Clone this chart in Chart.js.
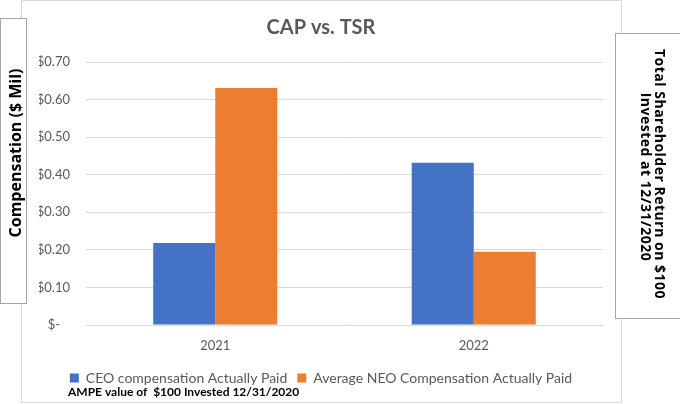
<!DOCTYPE html>
<html>
<head>
<meta charset="utf-8">
<title>CAP vs. TSR</title>
<script src="https://cdn.jsdelivr.net/npm/chart.js@4"></script>
<style>
	html, body { margin: 0; padding: 0; background: #ffffff; }
	#wrap { position: relative; width: 680px; height: 404px; }
</style>
</head>
<body>
<div id="wrap"><canvas id="capChart" width="680" height="404"></canvas></div>
<script>
// Chart data
const years = ["2021", "2022"];
const ceoCap = [0.218, 0.432];
const neoCap = [0.631, 0.195];
const yTicks = [0, 0.1, 0.2, 0.3, 0.4, 0.5, 0.6, 0.7];
const seriesNames = ["CEO compensation Actually Paid", "Average NEO Compensation Actually Paid"];
const leftAxisText = "Compensation ($ Mil)";
const rightAxisText = ["Total Shareholder Return on $100", "Invested at 12/31/2020"];
const footerText = "AMPE value of  $100 Invested 12/31/2020";

const FONT = "Lato, 'Open Sans', sans-serif";
const SIDE_FONT = "'Open Sans', sans-serif";

// Boxes and side texts, drawn behind / over the chart
const framePlugin = {
	id: "frame",
	beforeDraw: function (chart) {
		const ctx = chart.ctx;
		ctx.save();
		ctx.fillStyle = "#ffffff";
		ctx.fillRect(0, 0, chart.width, chart.height);
		ctx.strokeStyle = "#d9d9d9";
		ctx.lineWidth = 1;
		ctx.strokeRect(21.5, 0.5, 600, 402);
		ctx.restore();
	},
	afterDraw: function (chart) {
		const ctx = chart.ctx;

		// left box
		ctx.save();
		ctx.fillStyle = "#ffffff";
		ctx.fillRect(0, 18, 27, 285);
		ctx.strokeStyle = "#a6a6a6";
		ctx.strokeRect(0.5, 18.5, 26, 285);
		ctx.fillStyle = "#000000";
		ctx.font = "bold 16px " + SIDE_FONT;
		ctx.textAlign = "center";
		ctx.textBaseline = "middle";
		ctx.translate(16, 153);
		ctx.rotate(-Math.PI / 2);
		ctx.fillText(leftAxisText, 0, 0);
		ctx.restore();

		// right box
		ctx.save();
		ctx.fillStyle = "#ffffff";
		ctx.fillRect(615, 33, 65, 285);
		ctx.strokeStyle = "#a6a6a6";
		ctx.strokeRect(615.5, 33.5, 66, 285);
		ctx.fillStyle = "#000000";
		ctx.font = "bold 14px " + SIDE_FONT;
		ctx.letterSpacing = "0.5px";
		ctx.textAlign = "center";
		ctx.textBaseline = "middle";
		ctx.translate(652, 174);
		ctx.rotate(Math.PI / 2);
		ctx.fillText(rightAxisText[0], 0, -7);
		ctx.fillText(rightAxisText[1], 3, 7);
		ctx.restore();

		// footer line under the legend
		ctx.save();
		ctx.fillStyle = "#000000";
		ctx.font = "bold 12px " + FONT;
		ctx.textAlign = "left";
		ctx.textBaseline = "middle";
		ctx.fillText(footerText, 68, 392);
		ctx.restore();
	},
};

function initCapChart() {
	const ctx = document.getElementById("capChart");
	if (!ctx) {
		console.warn("Chart canvas not found");
		return;
	}

	new Chart(ctx.getContext("2d"), {
		type: "bar",
		data: {
			labels: years,
			datasets: [
				{
					label: seriesNames[0],
					data: ceoCap,
					backgroundColor: "#4472c4",
					categoryPercentage: 0.48,
					barPercentage: 1,
				},
				{
					label: seriesNames[1],
					data: neoCap,
					backgroundColor: "#ed7d31",
					categoryPercentage: 0.48,
					barPercentage: 1,
				},
			],
		},
		options: {
			responsive: false,
			animation: false,
			devicePixelRatio: 1,
			plugins: {
				title: {
					display: true,
					text: "CAP vs. TSR",
					color: "#595959",
					font: { family: FONT, size: 20, weight: "bold" },
					padding: { top: 16, bottom: 22 },
				},
				legend: {
					position: "bottom",
					labels: {
						color: "#595959",
						boxWidth: 9,
						boxHeight: 9,
						padding: 10,
						font: { family: FONT, size: 14 },
					},
				},
				tooltip: { enabled: false },
			},
			scales: {
				x: {
					grid: { display: false, drawTicks: false },
					border: { display: false },
					ticks: {
						color: "#595959",
						padding: 13,
						font: { family: FONT, size: 13 },
					},
					afterFit: function (scale) {
						scale.height = 36;
					},
				},
				y: {
					min: 0,
					max: 0.7,
					grid: { color: "#d9d9d9", drawTicks: false },
					border: { display: false },
					afterBuildTicks: function (scale) {
						scale.ticks = yTicks.map((v) => ({ value: v }));
					},
					afterFit: function (scale) {
						scale.width = 47;
					},
					ticks: {
						color: "#595959",
						padding: 16,
						font: { family: FONT, size: 13 },
						callback: function (value) {
							return value === 0 ? "$-   " : "$" + value.toFixed(2);
						},
					},
				},
			},
			layout: {
				padding: { top: 0, bottom: 9, left: 39, right: 77 },
			},
		},
		plugins: [framePlugin],
	});
}

document.addEventListener("DOMContentLoaded", function () {
	if (typeof Chart === "undefined") {
		console.error("Chart.js library not loaded");
		return;
	}
	initCapChart();
});
</script>
</body>
</html>
